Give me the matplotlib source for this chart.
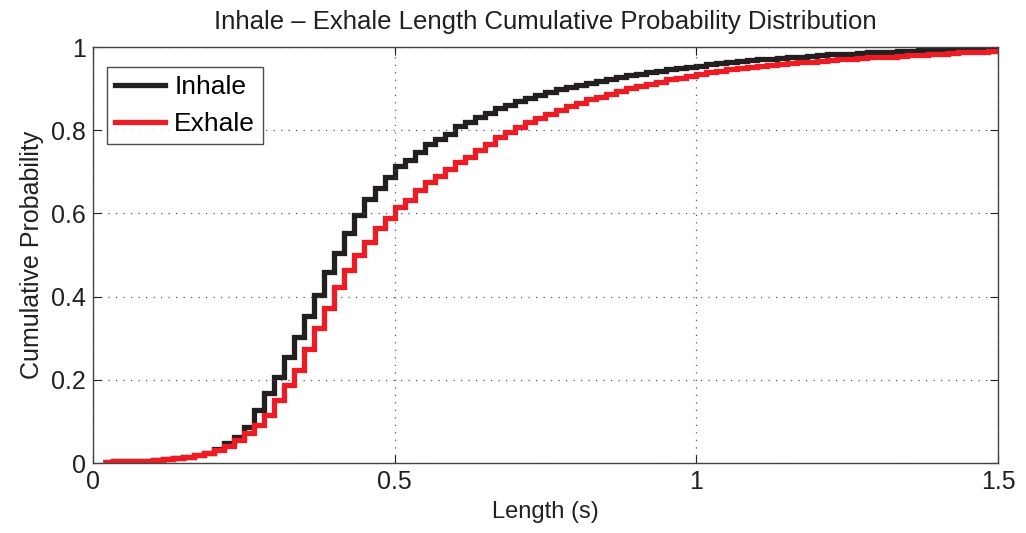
import numpy as np
import matplotlib
matplotlib.use("Agg")
import matplotlib.pyplot as plt

plt.rcParams['font.family'] = ['Liberation Sans', 'DejaVu Sans']

# step edges: one bin every 1/60 s, from 1/60 to 1.5 s
bin_edges = np.arange(1, 91) / 60.0

inhale_cdf = [
    0.003, 0.004, 0.004, 0.005, 0.006, 0.008, 0.010, 0.012, 0.015, 0.019,
    0.025, 0.034, 0.047, 0.063, 0.087, 0.127, 0.169, 0.207, 0.256, 0.304,
    0.353, 0.404, 0.458, 0.506, 0.554, 0.596, 0.634, 0.660, 0.688, 0.714,
    0.728, 0.748, 0.768, 0.780, 0.792, 0.810, 0.820, 0.831, 0.841, 0.853,
    0.861, 0.870, 0.878, 0.885, 0.892, 0.898, 0.903, 0.908, 0.913, 0.918,
    0.923, 0.928, 0.932, 0.936, 0.940, 0.943, 0.946, 0.949, 0.952, 0.955,
    0.958, 0.961, 0.963, 0.966, 0.968, 0.970, 0.972, 0.974, 0.976, 0.977,
    0.979, 0.980, 0.982, 0.983, 0.984, 0.986, 0.987, 0.988, 0.989, 0.990,
    0.991, 0.992, 0.993, 0.994, 0.995, 0.995, 0.996, 0.997, 0.998,
]

exhale_cdf = [
    0.003, 0.004, 0.004, 0.005, 0.006, 0.007, 0.009, 0.011, 0.015, 0.019,
    0.025, 0.032, 0.042, 0.055, 0.072, 0.091, 0.115, 0.151, 0.188, 0.224,
    0.273, 0.324, 0.372, 0.422, 0.464, 0.500, 0.532, 0.566, 0.590, 0.615,
    0.632, 0.656, 0.676, 0.690, 0.706, 0.724, 0.736, 0.752, 0.768, 0.783,
    0.796, 0.807, 0.820, 0.830, 0.840, 0.849, 0.858, 0.866, 0.874, 0.881,
    0.888, 0.895, 0.901, 0.906, 0.912, 0.917, 0.922, 0.926, 0.931, 0.935,
    0.939, 0.943, 0.946, 0.949, 0.952, 0.955, 0.957, 0.959, 0.961, 0.963,
    0.965, 0.967, 0.969, 0.970, 0.972, 0.973, 0.975, 0.976, 0.977, 0.979,
    0.980, 0.981, 0.982, 0.984, 0.985, 0.987, 0.988, 0.989, 0.991,
]

x_ticks = [0, 0.5, 1, 1.5]
x_tick_labels = ['0', '0.5', '1', '1.5']
y_ticks = [0, 0.2, 0.4, 0.6, 0.8, 1]
y_tick_labels = ['0', '0.2', '0.4', '0.6', '0.8', '1']

fig = plt.figure(figsize=(10.26, 5.33), dpi=100)
ax = fig.add_axes([0.0906, 0.1313, 0.8821, 0.7805])

ax.stairs(inhale_cdf, bin_edges, baseline=None, color='#231f20', linewidth=3.8,
          label='Inhale')
ax.stairs(exhale_cdf, bin_edges, baseline=None, color='#ed1c24', linewidth=3.8,
          label='Exhale')

ax.set_xlim(0, 1.5)
ax.set_ylim(0, 1)
ax.set_xticks(x_ticks)
ax.set_xticklabels(x_tick_labels)
ax.set_yticks(y_ticks)
ax.set_yticklabels(y_tick_labels)
ax.tick_params(direction='in', length=6, width=0.8, labelsize=18, colors='#231f20',
               top=True, right=True, pad=5)
ax.grid(True, linestyle=(0, (1, 5)), color='#555555', linewidth=0.9)
for s in ax.spines.values():
    s.set_color('#444444')
    s.set_linewidth(1.0)

ax.set_title('Inhale \u2013 Exhale Length Cumulative Probability Distribution',
             fontsize=18.5, color='#231f20', pad=13)
ax.set_xlabel('Length (s)', fontsize=17, color='#231f20', labelpad=5)
ax.set_ylabel('Cumulative Probability', fontsize=18, color='#231f20', labelpad=5)

leg = ax.legend(loc='upper left', bbox_to_anchor=(0.0155, 0.952), borderaxespad=0,
                fontsize=19, frameon=True, fancybox=False,
                edgecolor='#231f20', handlelength=1.9, handletextpad=0.35,
                borderpad=0.3, labelspacing=0.5)
leg.get_frame().set_linewidth(1.0)

fig.savefig('out.png', dpi=100)
